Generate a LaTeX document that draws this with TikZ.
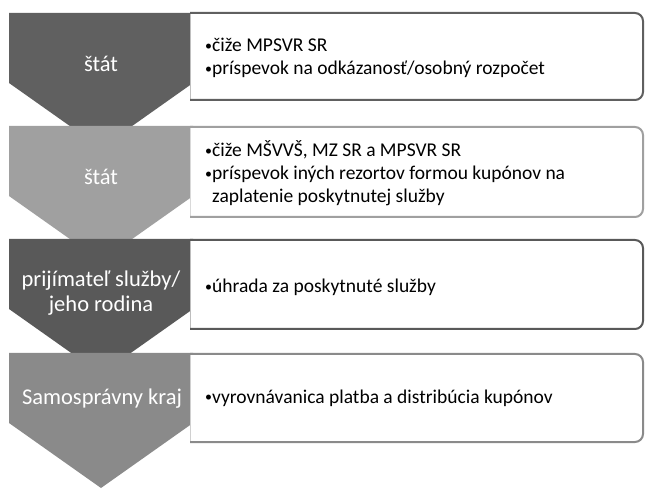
\documentclass[tikz,border=0pt]{standalone}
\usepackage{fontspec}
\setmainfont{Carlito}
\definecolor{cA}{HTML}{606060}
\definecolor{cB}{HTML}{A0A0A0}
\definecolor{cC}{HTML}{595959}
\definecolor{cD}{HTML}{8A8A8A}
\newcommand\bdot{\raisebox{1.8pt}{\fontsize{14}{14}\selectfont •}}
\newcommand\bitem[1]{\hbox{\hbox to 8pt{\hskip1pt\bdot\hss}\vtop{\hsize=395pt\raggedright\noindent #1}}}
\newcommand\btext[1]{\vtop{#1}}
\newcommand\ctext[1]{\vtop{\halign{\hfil##\hfil\cr #1\crcr}}}
\tikzset{
  chevtext/.style={text=white, font=\fontsize{22.5}{25}\selectfont, inner sep=0pt, anchor=base},
  boxtext/.style={text=black, font=\fontsize{19.5}{23}\selectfont, inner sep=0pt, anchor=base west}
}
\newcommand\chev[2]{% #1 top y, #2 colour
  \fill[#2] (9,#1) -- (193,#1) -- (193,#1+70) -- (101,#1+135) -- (9,#1+70) -- cycle;}
\newcommand\infobox[3]{% #1 top, #2 bottom, #3 colour
  \fill[white] (190,#1) rectangle (643,#2);
  \draw[line width=0.6pt, color=#3!40] (190.5,#1) -- (190.5,#2);
  \draw[line width=2pt, color=#3] (190,#1) -- (600,#1) [rounded corners=8pt] -- (643,#1) -- (643,#2) -- (600,#2) [sharp corners] -- (190,#2);}
\begin{document}
\begin{tikzpicture}[x=1pt, y=-1pt]
\useasboundingbox (0,0) rectangle (646,489);
\fill[white] (0,0) rectangle (646,489);
% chevrons
\chev{13}{cA}
\chev{126}{cB}
\chev{239}{cC}
\chev{353}{cD}
% boxes
\infobox{13}{100}{cA}
\infobox{127}{217}{cB}
\infobox{240}{329}{cC}
\infobox{354}{442}{cD}
% chevron texts
\node[chevtext] (t1) at (101,72) {štát};
\node[chevtext] (t2) at (101,185) {štát};
\node[chevtext] (t3) at (101,287) {\ctext{prijímateľ služby/\cr jeho rodina}};
\node[chevtext] (t4) at (102,405) {Samosprávny kraj};
% box texts
\node[boxtext] (b1) at (204,52) {\btext{\bitem{čiže MPSVR SR}\bitem{príspevok na odkázanosť/osobný rozpočet}}};
\node[boxtext] (b2) at (204,157) {\btext{\bitem{čiže MŠVVŠ, MZ SR a MPSVR SR}\bitem{príspevok iných rezortov formou kupónov na zaplatenie poskytnutej služby}}};
\node[boxtext] (b3) at (204,293) {\btext{\bitem{úhrada za poskytnuté služby}}};
\node[boxtext] (b4) at (204,403) {\btext{\bitem{vyrovnávanica platba a distribúcia kupónov}}};
\end{tikzpicture}
\end{document}
